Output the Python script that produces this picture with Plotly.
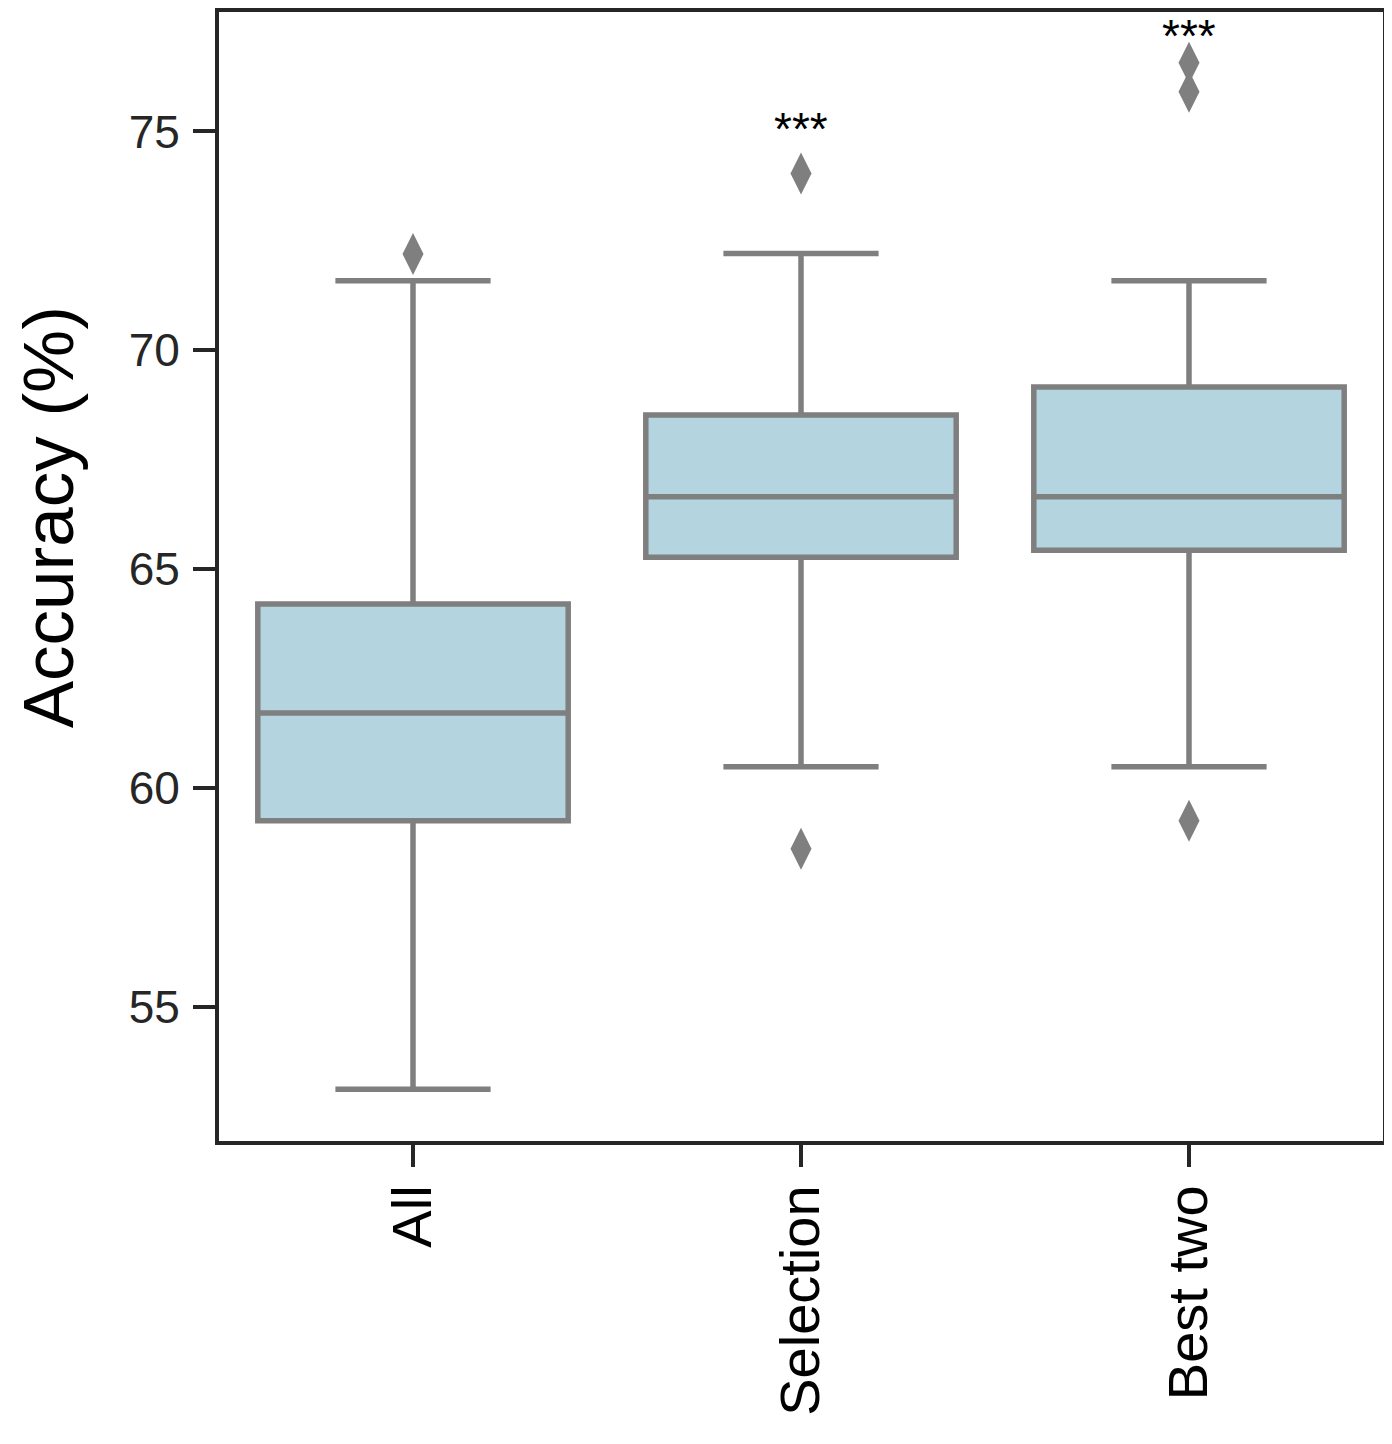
import plotly.graph_objects as go

groups = ["All", "Selection", "Best two"]
q1 = [59.25, 65.27, 65.43]
median = [61.71, 66.65, 66.65]
q3 = [64.20, 68.52, 69.16]
low_whisker = [53.11, 60.48, 60.48]
high_whisker = [71.59, 72.21, 71.59]

outlier_x = ["All", "Selection", "Selection", "Best two", "Best two", "Best two"]
outlier_y = [72.20, 74.04, 58.61, 76.57, 75.91, 59.25]

sig_groups = ["Selection", "Best two"]
sig_y = [75.09, 77.21]
sig_text = ["***", "***"]

box_fill = "#B4D5DF"
box_line = "#7F7F7F"
axis_col = "#262626"
font_name = "Liberation Sans, Arial, sans-serif"

fig = go.Figure()

fig.add_trace(
    go.Box(
        x=groups,
        q1=q1,
        median=median,
        q3=q3,
        lowerfence=low_whisker,
        upperfence=high_whisker,
        fillcolor=box_fill,
        line=dict(color=box_line, width=5.5),
        whiskerwidth=0.5,
        boxpoints=False,
        showlegend=False,
        hoverinfo="skip",
    )
)

fig.add_trace(
    go.Scatter(
        x=outlier_x,
        y=outlier_y,
        mode="markers",
        marker=dict(symbol="diamond-tall", size=30, color=box_line, line=dict(width=0)),
        showlegend=False,
    )
)

for g, yv, t in zip(sig_groups, sig_y, sig_text):
    fig.add_annotation(
        x=g, y=yv, text=t, showarrow=False, yanchor="middle", yshift=-1,
        font=dict(size=46, color="black", family=font_name),
    )

# y title sits a bit above the middle in the original, so use an annotation
fig.add_annotation(
    text="Accuracy (%)", textangle=-90, showarrow=False, borderpad=0,
    xref="paper", yref="paper", x=0, y=0.552, xanchor="left", yanchor="middle",
    xshift=-211,
    font=dict(size=71, color="black", family=font_name),
)

# the page body adds an 8px margin, so the figure is a bit smaller
fig.update_layout(
    width=1384,
    height=1436,
    margin=dict(l=211, r=9, t=0, b=303),
    plot_bgcolor="white",
    paper_bgcolor="white",
    boxgap=0.2,
    boxgroupgap=0,
    font=dict(family=font_name, color=axis_col),
)

fig.update_xaxes(
    type="category",
    range=[-0.5, 2.5],
    showline=True, linecolor=axis_col, linewidth=4, mirror=True,
    ticks="outside", ticklen=22, tickwidth=4, tickcolor=axis_col,
    ticklabelstandoff=-4,
    tickangle=-90, tickfont=dict(size=56, color="black"),
    showgrid=False, zeroline=False,
)

fig.update_yaxes(
    range=[51.93, 77.73],
    tickvals=[55, 60, 65, 70, 75],
    showline=True, linecolor=axis_col, linewidth=4, mirror=True,
    ticks="outside", ticklen=22, tickwidth=4, tickcolor=axis_col,
    ticklabelstandoff=4,
    tickfont=dict(size=46, color=axis_col),
    showgrid=False, zeroline=False,
)

fig.write_html("out.html")
